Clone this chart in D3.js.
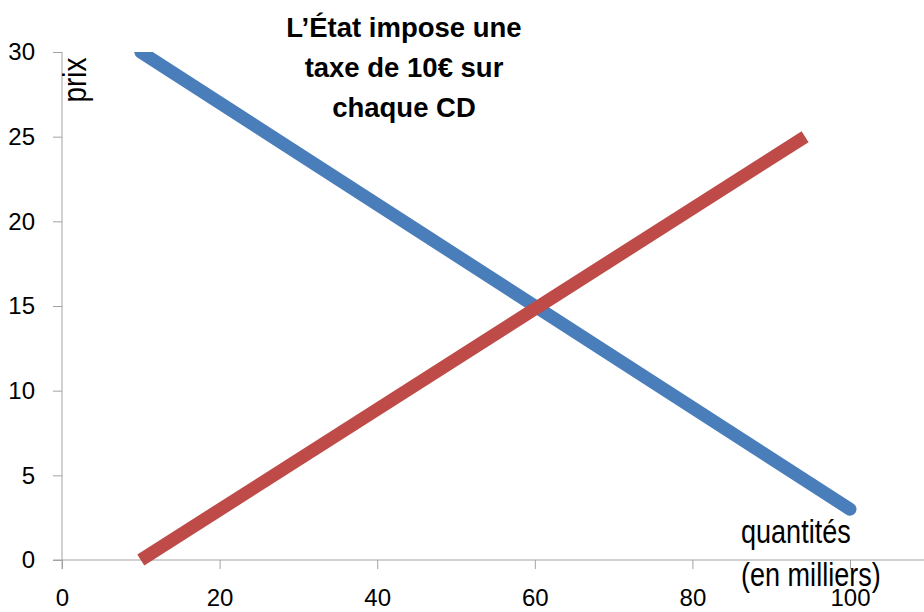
<!DOCTYPE html>
<html><head><meta charset="utf-8">
<script src="https://cdn.jsdelivr.net/npm/d3@7"></script>
<style>body{margin:0;background:#fff}svg{display:block}</style>
</head><body>
<script>
// Demand and supply curves (quantity in thousands, price in €)
const demandX = [10, 100];
const demandY = [30, 3];
const supplyX = [10, 94.3];
const supplyY = [0, 25];
const xTicks = [0, 20, 40, 60, 80, 100];
const yTicks = [0, 5, 10, 15, 20, 25, 30];
const titleLines = ["L’État impose une", "taxe de 10€ sur", "chaque CD"];
const xTitleLines = ["quantités", "(en milliers)"];
const yTitle = "prix";

const W = 924, H = 612;
const svg = d3.select("body").append("svg").attr("width", W).attr("height", H);

const x = d3.scaleLinear().domain([0, 110]).range([62, 62 + 110 * 7.88]);
const y = d3.scaleLinear().domain([0, 30]).range([560, 52]);

svg.append("defs").append("clipPath").attr("id", "plot")
  .append("rect").attr("x", 0).attr("y", y(30)).attr("width", W).attr("height", H);

const axisColor = "#a3a3a3";
const font = "Liberation Sans, Arial, sans-serif";

// y axis
const gy = svg.append("g").attr("transform", `translate(${x(0)},0)`)
  .call(d3.axisLeft(y).tickValues(yTicks).tickSize(9).tickPadding(18));
gy.select(".domain").remove();
gy.append("line").attr("x1", 0).attr("x2", 0).attr("y1", y(30)).attr("y2", y(0) + 9).attr("stroke", axisColor);
gy.selectAll(".tick line").attr("stroke", axisColor);
gy.selectAll(".tick text").attr("fill", "#000").style("font-family", font).style("font-size", "24px");

// x axis
const gx = svg.append("g").attr("transform", `translate(0,${y(0)})`)
  .call(d3.axisBottom(x).tickValues(xTicks).tickSize(9).tickPadding(20));
gx.select(".domain").remove();
gx.append("line").attr("x1", x(0) - 9).attr("x2", W).attr("y1", 0).attr("y2", 0).attr("stroke", axisColor);
gx.selectAll(".tick line").attr("stroke", axisColor);
gx.selectAll(".tick text").attr("fill", "#000").style("font-family", font).style("font-size", "24px");

const line = d3.line().x(d => x(d[0])).y(d => y(d[1]));

// demand curve
svg.append("path").datum(d3.zip(demandX, demandY))
  .attr("d", line).attr("fill", "none").attr("stroke", "#4A7EBB")
  .attr("stroke-width", 13).attr("stroke-linecap", "round")
  .attr("clip-path", "url(#plot)");

// supply curve
svg.append("path").datum(d3.zip(supplyX, supplyY))
  .attr("d", line).attr("fill", "none").attr("stroke", "#BE4B48")
  .attr("stroke-width", 13).attr("stroke-linecap", "butt");

// axis titles (narrow lettering)
svg.append("text").attr("transform", "translate(86,80) rotate(-90) scale(0.82,1)")
  .attr("text-anchor", "middle").style("font-family", font).style("font-size", "34px")
  .text(yTitle);

const qt = svg.append("text").attr("transform", "translate(741,0) scale(0.82,1)")
  .style("font-family", font).style("font-size", "33px").attr("fill", "#000");
xTitleLines.forEach((s, i) => qt.append("tspan").attr("x", 0).attr("y", 543 + i * 43).text(s));

// title
const t = svg.append("text").attr("text-anchor", "middle")
  .style("font-family", font).style("font-weight", "bold")
  .style("font-size", "27.5px");
titleLines.forEach((s, i) => t.append("tspan").attr("x", 404).attr("y", 37 + i * 40).text(s));
</script>
</body></html>
